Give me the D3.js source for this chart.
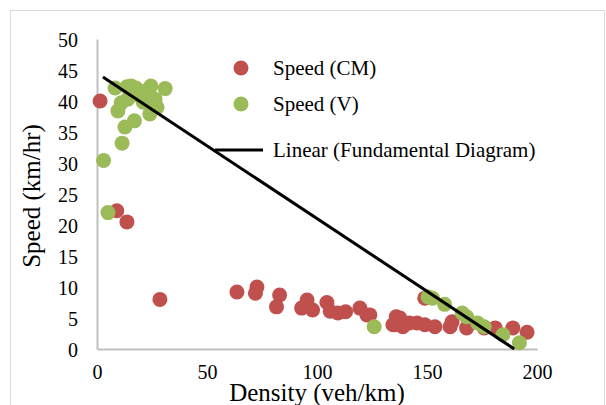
<!DOCTYPE html>
<html>
<head>
<meta charset="utf-8">
<script src="https://cdn.jsdelivr.net/npm/d3@7"></script>
<style>
  body { margin: 0; background: #fff; }
  text { font-family: "Liberation Serif", "Times New Roman", serif; fill: #000; }
</style>
</head>
<body>
<div id="vis"></div>
<script>
// Speed (CM) points: density, speed
var cmDensity = [1.4, 9, 13.6, 28.6, 63.6, 72.7, 72, 83, 81.6, 93, 95.5, 98, 104.5, 106, 109.5, 113, 119.5, 122.7,
    124, 134.5, 136, 137.7, 135.5, 139, 142, 145.5, 149, 149, 153.6, 161.4, 160.5, 168, 176, 181, 189, 195.5];
var cmSpeed = [40, 22.3, 20.5, 8, 9.2, 10, 9, 8.7, 6.8, 6.6, 7.9, 6.3, 7.5, 6.1, 5.8, 6, 6.6, 5.5,
    5.5, 3.9, 5.2, 5, 3.9, 3.6, 4.2, 4.2, 3.9, 8.2, 3.6, 4.4, 3.6, 3.4, 3.4, 3.4, 3.4, 2.7];

// Speed (V) points
var vDensity = [3, 5, 9.5, 11.4, 12.7, 17, 8.2, 11, 13.6, 15.5, 17.7, 14, 20.5, 23, 24.5, 26.4, 27.3, 24, 31, 21, 17.7,
    126, 150.5, 152.5, 158, 166, 168, 173, 176, 184.5, 192];
var vSpeed = [30.4, 22, 38.4, 33.2, 35.8, 36.8, 42.1, 39.7, 42.3, 42.4, 42.1, 40.3, 41, 41.8, 42.4, 40.3, 39, 37.9, 42, 39.8, 41.1,
    3.6, 8.4, 8.2, 7.2, 5.8, 5.2, 4.2, 3.6, 2.3, 1.0];

// Linear trend (Fundamental Diagram)
var trendSlope = -0.2346;
var trendIntercept = 44.5;
var trendRange = [2.7, 189.7];

var xTicks = [0, 50, 100, 150, 200];
var yTicks = [0, 5, 10, 15, 20, 25, 30, 35, 40, 45, 50];

var width = 606, height = 405;
var margin = { left: 97, top: 39, right: 69, bottom: 56 };
var drawWidth = width - margin.left - margin.right;
var drawHeight = height - margin.top - margin.bottom;

var red = '#C0504D', green = '#9BBB59';

var svg = d3.select('#vis').append('svg')
    .attr('width', width)
    .attr('height', height);

// chart area border
svg.append('rect')
    .attr('x', 10.5).attr('y', 10.5)
    .attr('width', 594).attr('height', 400)
    .attr('fill', 'none')
    .attr('stroke', '#d9d9d9');

var g = svg.append('g')
    .attr('transform', 'translate(' + margin.left + ',' + margin.top + ')');

var xScale = d3.scaleLinear().domain([0, 200]).range([0, drawWidth]);
var yScale = d3.scaleLinear().domain([0, 50]).range([drawHeight, 0]);

var xAxis = d3.axisBottom(xScale).tickValues(xTicks).tickSize(0).tickPadding(16);
var yAxis = d3.axisLeft(yScale).tickValues(yTicks).tickSize(0).tickPadding(19);

var xAxisG = g.append('g')
    .attr('transform', 'translate(0,' + drawHeight + ')')
    .call(xAxis);
var yAxisG = g.append('g').call(yAxis);

[xAxisG, yAxisG].forEach(function(a) {
    a.select('.domain').attr('stroke', '#bfbfbf').attr('stroke-width', 2);
    a.selectAll('text')
        .style('font-family', '"Liberation Serif", serif')
        .style('font-size', '20px')
        .attr('fill', '#000');
});
yAxisG.selectAll('text').attr('dy', '0.35em');

// points
function points(xs, ys, color) {
    g.append('g').selectAll('circle')
        .data(xs.map(function(d, i) { return [d, ys[i]]; }))
        .enter().append('circle')
        .attr('cx', function(d) { return xScale(d[0]); })
        .attr('cy', function(d) { return yScale(d[1]); })
        .attr('r', 7.5)
        .attr('fill', color);
}
points(cmDensity, cmSpeed, red);
points(vDensity, vSpeed, green);

// trendline
var line = d3.line()
    .x(function(d) { return xScale(d); })
    .y(function(d) { return yScale(trendSlope * d + trendIntercept); });
g.append('path')
    .datum(trendRange)
    .attr('d', line)
    .attr('fill', 'none')
    .attr('stroke', '#000')
    .attr('stroke-width', 3);

// legend
var legend = svg.append('g');
var legendItems = ['Speed (CM)', 'Speed (V)', 'Linear (Fundamental Diagram)'];
legendItems.forEach(function(name, i) {
    var y = [68, 104, 150][i];
    if (i < 2) {
        legend.append('circle').attr('cx', 241).attr('cy', y).attr('r', 7.5)
            .attr('fill', i === 0 ? red : green);
    } else {
        legend.append('line').attr('x1', 215).attr('x2', 263).attr('y1', y).attr('y2', y)
            .attr('stroke', '#000').attr('stroke-width', 3);
    }
    legend.append('text').attr('x', 273).attr('y', y).attr('dy', '0.35em')
        .style('font-size', '21px').text(name);
});

// axis titles
svg.append('text')
    .attr('x', 317).attr('y', 401)
    .attr('text-anchor', 'middle')
    .style('font-size', '25px')
    .text('Density (veh/km)');
svg.append('text')
    .attr('transform', 'translate(40,' + 196 + ') rotate(-90)')
    .attr('text-anchor', 'middle')
    .style('font-size', '25px')
    .text('Speed (km/hr)');
</script>
</body>
</html>
